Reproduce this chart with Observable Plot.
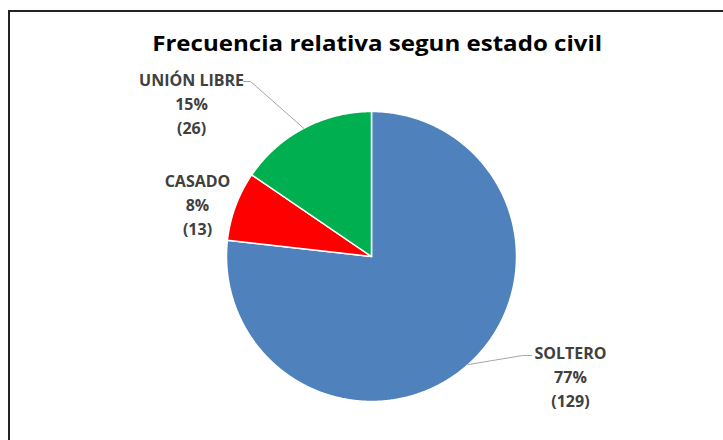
<!DOCTYPE html>
<html>
<head>
<meta charset="utf-8">
<script src="https://cdn.jsdelivr.net/npm/d3@7"></script>
<script src="https://cdn.jsdelivr.net/npm/@observablehq/plot@0.6"></script>
<style>
  html, body { margin: 0; padding: 0; background: #fff; }
  #wrap { position: relative; width: 723px; height: 440px; overflow: hidden; background: #fff; }
  #frame { position: absolute; left: 8px; top: 10px; width: 740px; height: 460px;
           border-top: 2px solid #222; border-left: 2px solid #222; box-sizing: border-box; }
  #title { position: absolute; left: 0; width: 754px; top: 29px; text-align: center; line-height: 28px;
           font-family: "Open Sans", Lato, sans-serif; font-weight: 700; font-size: 21px; color: #000; white-space: nowrap; }
  #title span { display: inline-block; transform-origin: center center; }
  #chart { position: absolute; left: 0; top: 0; }
</style>
</head>
<body>
<div id="wrap">
  <div id="frame"></div>
  <div id="chart"></div>
  <div id="title"><span id="titleText">Frecuencia relativa segun estado civil</span></div>
</div>
<script>
// ---- data ----
const categories = ["SOLTERO", "CASADO", "UNIÓN LIBRE"];
const counts = [129, 13, 26];
const percentLabels = ["77%", "8%", "15%"];
const countLabels = ["(129)", "(13)", "(26)"];
const sliceColors = ["#4F81BD", "#FF0000", "#00B050"];

// ---- layout (label anchors and leader-line elbows, in pie-radius units) ----
const labelLayout = {
  "SOLTERO":     {x: 1.372, y: -0.821, lead: [[1.041, -0.683], [1.103, -0.683]]},
  "CASADO":      {x: -1.200, y: 0.366, lead: null},
  "UNIÓN LIBRE": {x: -1.241, y: 1.066, lead: [[-0.834, 1.207], [-0.883, 1.207]]}
};

const pie = d3.pie().sort(null).value(d => d)(counts);
const slices = pie.map((p, i) => ({cat: categories[i], start: p.startAngle, end: p.endAngle}));

// polygon outline of each slice (angles clockwise from 12 o'clock)
const pts = [];
for (const s of slices) {
  pts.push({cat: s.cat, x: 0, y: 0});
  const n = Math.max(2, Math.ceil((s.end - s.start) / (Math.PI / 360)));
  for (let k = 0; k <= n; k++) {
    const a = s.start + (s.end - s.start) * k / n;
    pts.push({cat: s.cat, x: Math.sin(a), y: Math.cos(a)});
  }
  pts.push({cat: s.cat, x: 0, y: 0});
}

const labels = slices.map((s, i) => ({
  cat: s.cat,
  text: `${categories[i]}\n${percentLabels[i]}\n${countLabels[i]}`,
  x: labelLayout[s.cat].x,
  y: labelLayout[s.cat].y
}));

const leaders = [];
for (const s of slices) {
  const L = labelLayout[s.cat].lead;
  if (!L) continue;
  const m = (s.start + s.end) / 2;
  leaders.push({cat: s.cat, x: Math.sin(m), y: Math.cos(m)});
  for (const [x, y] of L) leaders.push({cat: s.cat, x, y});
}

const R = 145, cx = 371, cy = 256, W = 723, H = 440;

const chart = Plot.plot({
  width: W, height: H,
  marginLeft: cx - R, marginRight: W - (cx + R),
  marginTop: cy - R, marginBottom: H - (cy + R),
  x: {domain: [-1, 1], axis: null},
  y: {domain: [-1, 1], axis: null},
  color: {domain: categories, range: sliceColors},
  style: {background: "transparent", overflow: "visible"},
  marks: [
    Plot.line(pts, {x: "x", y: "y", z: "cat", fill: "cat", stroke: "white", strokeWidth: 1.5, strokeLinejoin: "round"}),
    Plot.line(leaders, {x: "x", y: "y", z: "cat", stroke: "#a6a6a6", strokeWidth: 1}),
    Plot.text(labels, {x: "x", y: "y", text: "text", lineAnchor: "middle", lineHeight: 1.5,
      fontFamily: "'Open Sans', Lato, sans-serif", fontWeight: "bold", fontSize: 16, fill: "#404040"})
  ]
});
document.getElementById("chart").appendChild(chart);

// stretch title to the reference width
const t = document.getElementById("titleText");
const w = t.getBoundingClientRect().width;
t.style.transform = `scaleX(${450 / w})`;
</script>
</body>
</html>
